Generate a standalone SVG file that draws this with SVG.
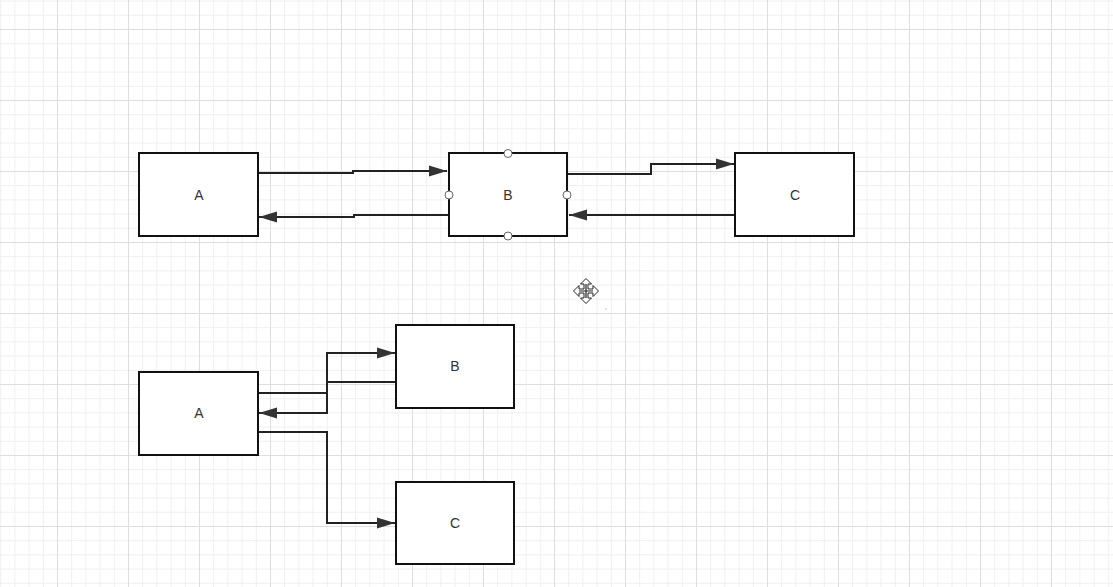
<svg xmlns="http://www.w3.org/2000/svg" width="1113" height="587" viewBox="0 0 1113 587">
<defs>
<pattern id="minor" width="14.2" height="14.2" patternUnits="userSpaceOnUse" x="-14" y="-13.6">
<path d="M0 0.5H14.2M0.5 0V14.2" fill="none" stroke="#efefef" stroke-width="1"/>
</pattern>
<pattern id="major" width="71" height="71" patternUnits="userSpaceOnUse" x="-14" y="-42">
<path d="M0 0.5H71M0.5 0V71" fill="none" stroke="#dedede" stroke-width="1"/>
</pattern>
<marker id="arr" markerUnits="userSpaceOnUse" markerWidth="20" markerHeight="14" refX="18" refY="6" orient="auto">
<path d="M0 0.5L18 6L0 11.5Z" fill="#333"/>
</marker>
</defs>
<style>
.box{fill:#fff;stroke:#111;stroke-width:2}
.lbl{font-family:"Liberation Sans",Arial,sans-serif;font-size:14px;fill:#333;text-anchor:middle;dominant-baseline:central}
.con{fill:none;stroke:#222;stroke-width:2;marker-end:url(#arr)}
.h{fill:#fff;stroke:#666;stroke-width:1}
</style>
<rect width="1113" height="587" fill="#fff"/>
<rect width="1113" height="587" fill="url(#minor)"/>
<rect width="1113" height="587" fill="url(#major)"/>

<g id="connectors">
<path class="con" d="M258 173H353V171H447"/>
<path class="con" d="M449 215H354V217H259"/>
<path class="con" d="M567 174H651V164H734"/>
<path class="con" d="M735 215H569"/>
<path class="con" d="M258 393H327V353H395"/>
<path class="con" d="M396 382H327V413H259"/>
<path class="con" d="M258 432H327V523H395"/>
</g>

<g id="top-A"><rect class="box" x="139" y="153" width="119" height="83"/><text class="lbl" x="199" y="195">A</text></g>
<g id="top-B"><rect class="box" x="449" y="153" width="118" height="83"/><text class="lbl" x="508" y="195">B</text>
<circle class="h" cx="508" cy="153.5" r="4"/><circle class="h" cx="508" cy="236" r="4"/><circle class="h" cx="449" cy="195" r="4"/><circle class="h" cx="567" cy="195" r="4"/></g>
<g id="top-C"><rect class="box" x="735" y="153" width="119" height="83"/><text class="lbl" x="795" y="195">C</text></g>

<g id="bottom-A"><rect class="box" x="139" y="372" width="119" height="83"/><text class="lbl" x="199" y="413">A</text></g>
<g id="bottom-B"><rect class="box" x="396" y="325" width="118" height="83"/><text class="lbl" x="455" y="366">B</text></g>
<g id="bottom-C"><rect class="box" x="396" y="482" width="118" height="82"/><text class="lbl" x="455" y="523">C</text></g>

<g id="cursor" transform="translate(586 291)">
<path d="M0 -12.5L-5.5 -7H-2V-2H-7V-5.5L-12.5 0L-7 5.5V2H-2V7H-5.5L0 12.5L5.5 7H2V2H7V5.5L12.5 0L7 -5.5V-2H2V-7H5.5Z" fill="#fff" stroke="#222" stroke-width="1" stroke-linejoin="miter"/>
<path d="M0 -7V7M-7 0H7" stroke="#222" stroke-width="1.2"/>
</g>
<circle cx="606" cy="309" r="0.6" fill="#888"/>
</svg>
